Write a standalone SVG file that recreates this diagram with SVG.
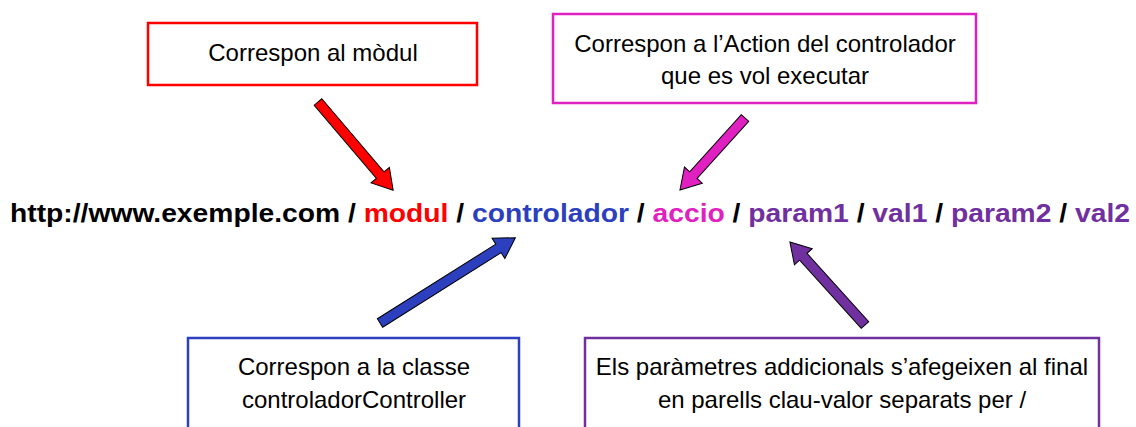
<svg xmlns="http://www.w3.org/2000/svg" width="1136" height="427" viewBox="0 0 1136 427">
<style>
.box{fill:#fff;stroke-width:2.5}
.lbl{font-family:"Liberation Sans",Arial,sans-serif;font-size:24px;fill:#000;text-anchor:middle}
.url{font-family:"Liberation Sans",Arial,sans-serif;font-size:25px;font-weight:bold;fill:#000}
.arr{stroke:#000;stroke-width:1;stroke-linejoin:miter}
</style>
<rect width="1136" height="427" fill="#fff"/>
<g id="node-modul">
<rect class="box" x="148" y="23" width="329" height="62" stroke="#FF0000"/>
<text class="lbl" x="313" y="61">Correspon al mòdul</text>
</g>
<g id="node-accio">
<rect class="box" x="553" y="14" width="423" height="89" stroke="#E020C0"/>
<text class="lbl" x="765" y="52">Correspon a l’Action del controlador</text>
<text class="lbl" x="765" y="84">que es vol executar</text>
</g>
<g id="node-controlador">
<rect class="box" x="188" y="338" width="331" height="100" stroke="#2B3FBF"/>
<text class="lbl" x="354" y="375">Correspon a la classe</text>
<text class="lbl" x="354" y="408">controladorController</text>
</g>
<g id="node-params">
<rect class="box" x="585" y="338" width="514" height="100" stroke="#7030A0"/>
<text class="lbl" x="842" y="375">Els paràmetres addicionals s’afegeixen al final</text>
<text class="lbl" x="842" y="408">en parells clau-valor separats per /</text>
</g>
<g id="node-url">
<text class="url" x="10" y="222" textLength="1120" lengthAdjust="spacingAndGlyphs">http://www.exemple.com / <tspan fill="#FF0000">modul</tspan> / <tspan fill="#2B3FBF">controlador</tspan> / <tspan fill="#E020C0">accio</tspan> / <tspan fill="#7030A0">param1</tspan> / <tspan fill="#7030A0">val1</tspan> / <tspan fill="#7030A0">param2</tspan> / <tspan fill="#7030A0">val2</tspan></text>
</g>
<g id="connectors">
<path class="arr" fill="#FF0000" transform="translate(318,102) rotate(49.6)" d="M0,-5 L96,-5 L96,-12 L116,0 L96,12 L96,5 L0,5 Z"/>
<path class="arr" fill="#E020C0" transform="translate(745,118) rotate(132.1)" d="M0,-5 L77,-5 L77,-12 L97,0 L77,12 L77,5 L0,5 Z"/>
<path class="arr" fill="#2B3FBF" transform="translate(380,323) rotate(-32.2)" d="M0,-5 L140,-5 L140,-12 L160,0 L140,12 L140,5 L0,5 Z"/>
<path class="arr" fill="#7030A0" transform="translate(865,325) rotate(-132.1)" d="M0,-5 L92,-5 L92,-12 L112,0 L92,12 L92,5 L0,5 Z"/>
</g>
</svg>
